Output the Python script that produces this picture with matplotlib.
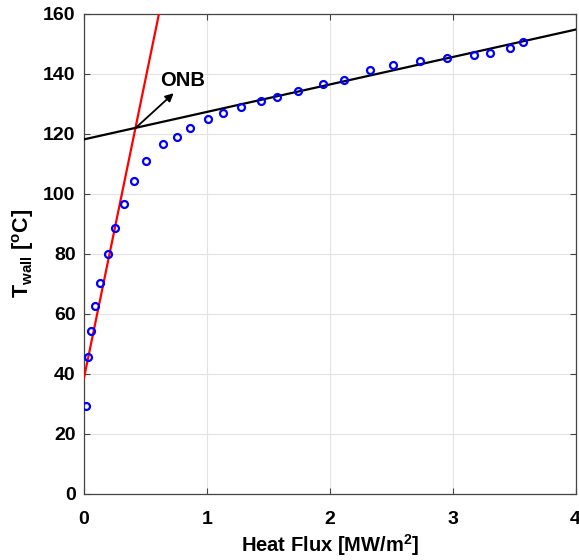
import matplotlib
matplotlib.use("Agg")
import matplotlib.pyplot as plt

# measured points
heat_flux = [0.014, 0.035, 0.059, 0.092, 0.133, 0.198, 0.252, 0.325, 0.409, 0.507,
             0.645, 0.754, 0.864, 1.008, 1.133, 1.279, 1.439, 1.567, 1.742, 1.946,
             2.114, 2.328, 2.518, 2.737, 2.951, 3.171, 3.303, 3.463, 3.569]
t_wall = [29.4, 45.6, 54.3, 62.7, 70.2, 79.9, 88.6, 96.8, 104.2, 110.9,
          116.6, 118.9, 121.9, 124.9, 126.9, 128.9, 130.9, 132.4, 134.3, 136.5,
          138.1, 141.2, 142.9, 144.3, 145.3, 146.3, 147.1, 148.8, 150.7]

# fitted lines (single-phase and boiling)
red_x = [0.0, 0.61]
red_y = [38.6, 160.0]
black_x = [0.0, 4.0]
black_y = [118.2, 154.8]

# ONB point and arrow tip
onb_xy = (0.42, 122.0)
onb_tip = (0.73, 133.6)

plt.rcParams['font.family'] = ['Liberation Sans', 'DejaVu Sans']
plt.rcParams['font.weight'] = 'bold'
plt.rcParams['mathtext.fontset'] = 'custom'
plt.rcParams['mathtext.bf'] = 'Liberation Sans:bold'
plt.rcParams['mathtext.rm'] = 'Liberation Sans:bold'
plt.rcParams['mathtext.it'] = 'Liberation Sans:bold'

fig = plt.figure(figsize=(5.79, 5.60), dpi=100)
ax = fig.add_axes([0.145, 0.118, 0.849, 0.857])

ax.plot(red_x, red_y, color='red', lw=1.6, zorder=3)
ax.plot(black_x, black_y, color='black', lw=1.6, zorder=3)
ax.plot(heat_flux, t_wall, 'o', mfc='none', mec='blue', ms=5, mew=1.6, zorder=4)

ax.annotate('', xy=onb_tip, xytext=onb_xy,
            arrowprops=dict(arrowstyle='-|>', color='black', lw=1.3,
                            mutation_scale=12, shrinkA=0, shrinkB=0), zorder=5)
ax.text(0.62, 137.8, 'ONB', fontsize=14.5, fontweight='bold', va='center', ha='left')

ax.set_xlim(0, 4)
ax.set_ylim(0, 160)
ax.set_xticks([0, 1, 2, 3, 4])
ax.set_yticks(range(0, 161, 20))
ax.grid(True, color='#e3e3e3', lw=0.8)
ax.set_axisbelow(True)
ax.tick_params(direction='in', top=True, right=True, labelsize=14,
               color='#444444', length=4, width=0.8, pad=6)
ax.tick_params(axis='x', pad=12)
for lab in ax.get_xticklabels() + ax.get_yticklabels():
    lab.set_fontweight('bold')
for s in ax.spines.values():
    s.set_color('#444444')
    s.set_linewidth(0.9)

ax.set_xlabel(r'Heat Flux [MW/m$^2$]', fontsize=14.5, fontweight='bold', labelpad=3)
ax.set_ylabel(r'T$_{\mathbf{wall}}$ [$^{\mathbf{o}}$C]', fontsize=15.5, fontweight='bold', labelpad=5)

fig.savefig('out.png', dpi=100)
